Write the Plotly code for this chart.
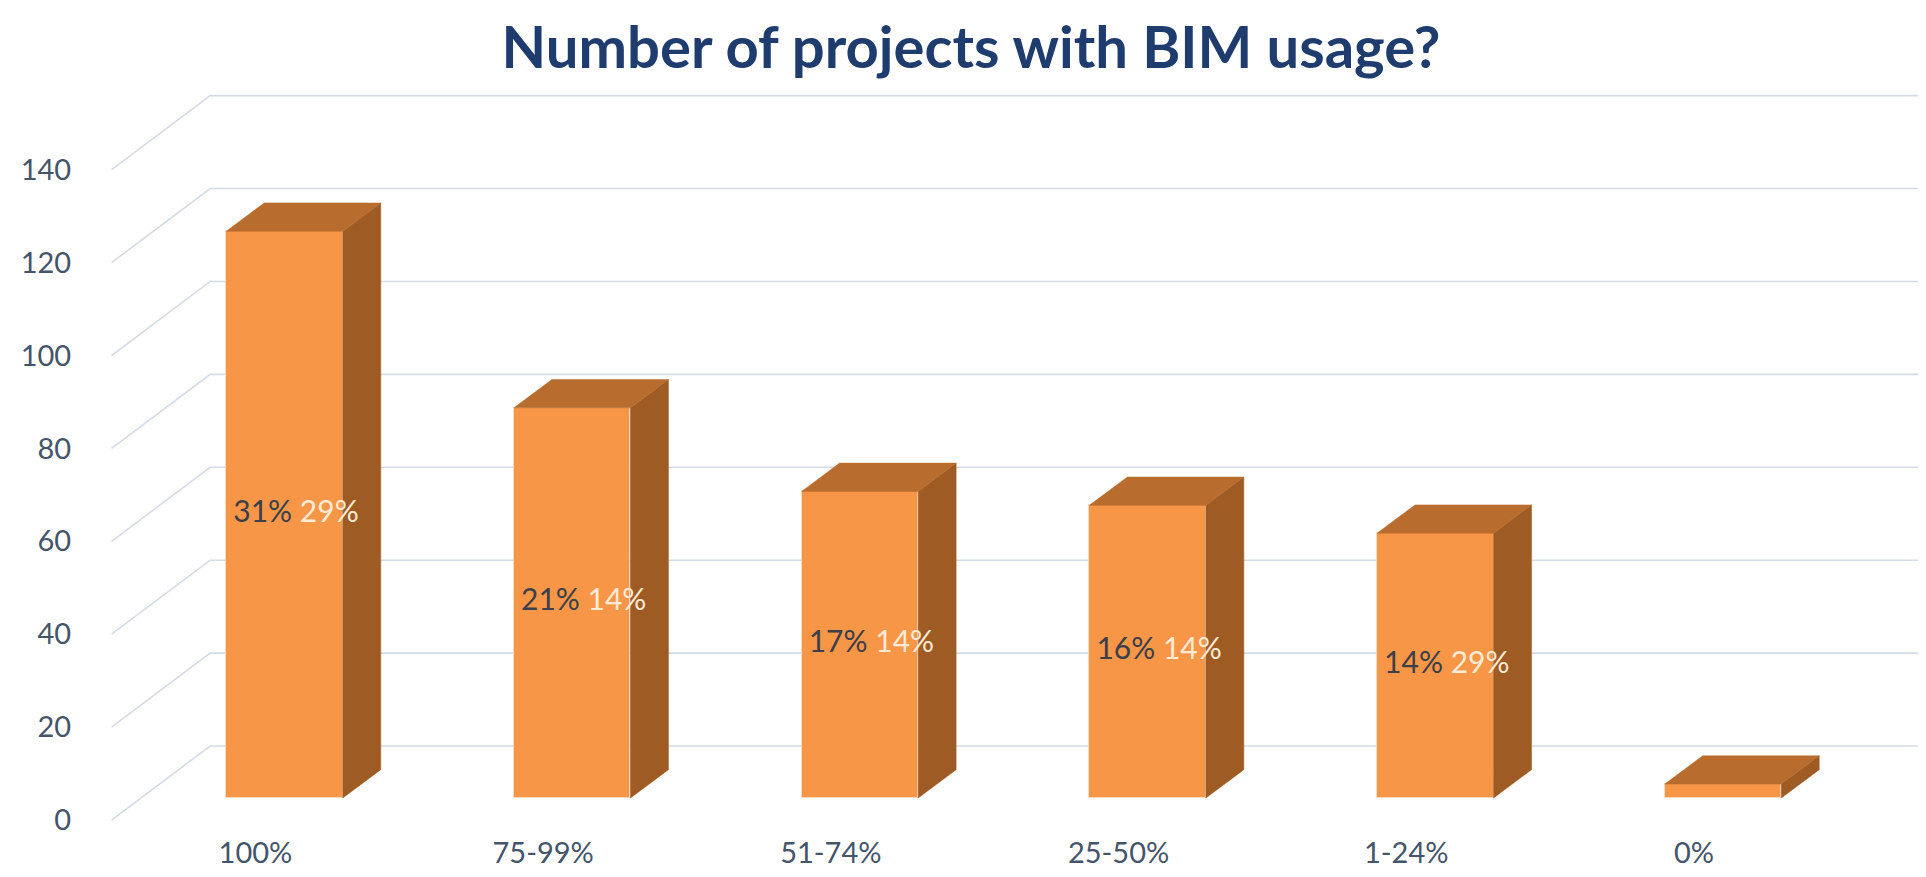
import plotly.graph_objects as go

# ---------------- data ----------------
categories = ["100%", "75-99%", "51-74%", "25-50%", "1-24%", "0%"]
counts = [122, 84, 66, 63, 57, 3]
share_a = ["31%", "21%", "17%", "16%", "14%", ""]
share_b = ["29%", "14%", "14%", "14%", "29%", ""]
y_ticks = [0, 20, 40, 60, 80, 100, 120, 140]
title_text = "Number of projects with BIM usage?"

# ---------------- 3-D look geometry (axis units) ----------------
BAR_W = 0.405
DEPTH_X, DEPTH_Y = 0.132, 6.1            # bar depth
FRONT_DX, FRONT_DY = -0.101, -4.74       # front plane relative to bar fronts
BACK_DX, BACK_DY = 0.2416, 11.2          # back wall relative to bar fronts

FRONT_C = "#F79646"
SIDE_C = "#9E5B23"
TOP_C = "#B86D2E"
GRID_C = "#D5DBE5"
TEXT_C = "#44546A"
FONT = "Lato"

n = len(categories)
xs = list(range(n))
x_left, x_right = -0.5, n - 0.5

fig = go.Figure()

# gridlines (left wall diagonals + back wall horizontals), drawn beneath the bars
for v in y_ticks:
    fig.add_shape(type="path", layer="below", xref="x", yref="y",
                  path=(f"M {x_left + FRONT_DX},{v + FRONT_DY} "
                        f"L {x_left + BACK_DX},{v + BACK_DY} "
                        f"L {x_right + BACK_DX},{v + BACK_DY}"),
                  line=dict(color=GRID_C, width=1.6))

# side and top faces
sx, sy = [], []
tx, ty = [], []
for i, v in zip(xs, counts):
    x0, x1 = i - BAR_W / 2, i + BAR_W / 2
    sx += [x1, x1 + DEPTH_X, x1 + DEPTH_X, x1, x1, None]
    sy += [0, DEPTH_Y, v + DEPTH_Y, v, 0, None]
    tx += [x0, x1, x1 + DEPTH_X, x0 + DEPTH_X, x0, None]
    ty += [v, v, v + DEPTH_Y, v + DEPTH_Y, v, None]

# front faces
fig.add_trace(go.Bar(x=xs, y=counts, width=BAR_W, base=0,
                     marker=dict(color=FRONT_C, line=dict(color="#FBD9BC", width=1)),
                     hoverinfo="skip", showlegend=False))
fig.add_trace(go.Scatter(x=sx, y=sy, mode="lines", fill="toself",
                         fillcolor=SIDE_C, line=dict(color=SIDE_C, width=0.5),
                         hoverinfo="skip", showlegend=False))
fig.add_trace(go.Scatter(x=tx, y=ty, mode="lines", fill="toself",
                         fillcolor=TOP_C, line=dict(color=TOP_C, width=0.5),
                         hoverinfo="skip", showlegend=False))

# labels
labels = []
for a, b in zip(share_a, share_b):
    if a:
        labels.append(f"<span style='color:#3A3F4B'>{a}</span> "
                      f"<span style='color:#FDEBD6'>{b}</span>")
    else:
        labels.append("")
fig.add_trace(go.Scatter(x=[i + 0.04 for i in xs], y=[v / 2 for v in counts],
                         mode="text", text=labels,
                         textfont=dict(family=FONT, size=30, color="#3A3F4B"),
                         textposition="middle center",
                         hoverinfo="skip", showlegend=False))

fig.update_layout(
    width=1926, height=877,
    margin=dict(l=90, r=0, t=70, b=52),
    paper_bgcolor="white", plot_bgcolor="white",
    title=dict(text=f"<b>{title_text}</b>", x=0.5, xref="container",
               xanchor="center", y=1 - 40 / 877, yref="container", yanchor="middle",
               font=dict(family=FONT, size=58, color="#1F3C6E")),
    bargap=0,
    xaxis=dict(range=[-0.6483, 5.7334], showgrid=False, zeroline=False, showline=False,
               tickvals=[i + FRONT_DX for i in xs], ticktext=categories,
               ticks="", ticklen=0,
               tickfont=dict(family=FONT, size=29, color=TEXT_C)),
    yaxis=dict(range=[-7.53, 155.0], showgrid=False, zeroline=False, showline=False,
               tickvals=[v + FRONT_DY for v in y_ticks], ticktext=[str(v) for v in y_ticks],
               ticks="outside", ticklen=20, tickcolor="rgba(0,0,0,0)",
               tickfont=dict(family=FONT, size=29, color=TEXT_C)),
)

fig.write_html("out.html")
